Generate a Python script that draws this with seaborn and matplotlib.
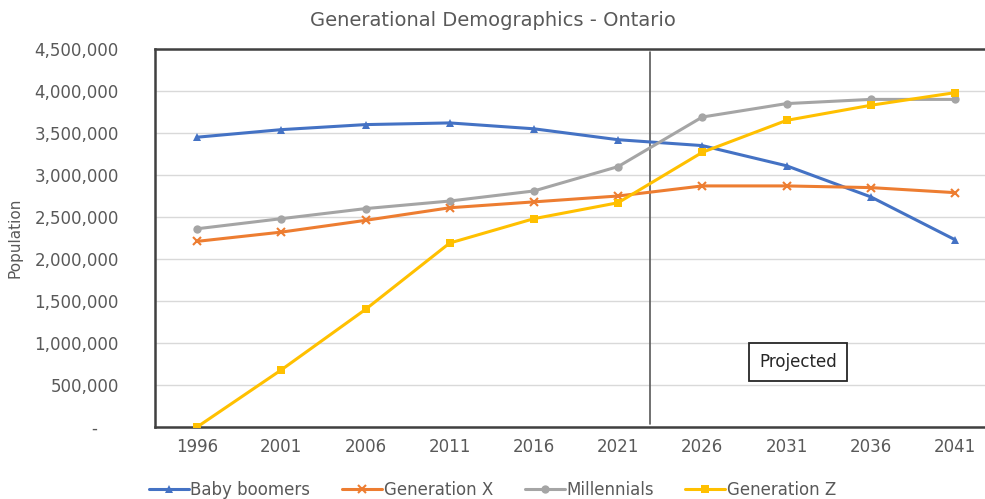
import matplotlib
matplotlib.use("Agg")
import matplotlib.pyplot as plt
import seaborn as sns
import pandas as pd
from matplotlib.ticker import FuncFormatter, MultipleLocator

years = ["1996", "2001", "2006", "2011", "2016", "2021", "2026", "2031", "2036", "2041"]
baby_boomers = [3450000, 3540000, 3600000, 3620000, 3550000, 3420000, 3350000, 3110000, 2740000, 2230000]
generation_x = [2210000, 2320000, 2460000, 2610000, 2680000, 2750000, 2870000, 2870000, 2850000, 2790000]
millennials = [2360000, 2480000, 2600000, 2690000, 2810000, 3100000, 3690000, 3850000, 3900000, 3900000]
generation_z = [0, 680000, 1400000, 2190000, 2480000, 2670000, 3270000, 3650000, 3830000, 3980000]
series_names = ["Baby boomers", "Generation X", "Millennials", "Generation Z"]
series_values = [baby_boomers, generation_x, millennials, generation_z]
colors = ["#4472C4", "#ED7D31", "#A5A5A5", "#FFC000"]
markers = ["^", "x", "o", "s"]

rows = []
for name, vals in zip(series_names, series_values):
    for i, (y, v) in enumerate(zip(years, vals)):
        rows.append({"idx": i, "year": y, "Population": v, "series": name})
df = pd.DataFrame(rows)

sns.set_theme(style="white")
plt.rcParams['font.family'] = ['DejaVu Sans']

fig = plt.figure(figsize=(9.85, 4.99), dpi=100)
ax = fig.add_axes([155/985, 72/499, 842/985, 378/499])

for name, col, mk in zip(series_names, colors, markers):
    sub = df[df["series"] == name]
    sns.lineplot(data=sub, x="idx", y="Population", ax=ax, color=col, marker=mk,
                 markersize=6, markeredgewidth=1.5 if mk == "x" else 0,
                 markeredgecolor=col, linewidth=2.2, label=name, legend=False, zorder=3)

ax.set_xlim(-0.5, 9.5)
ax.set_ylim(0, 4500000)
ax.set_xticks(range(len(years)))
ax.set_xticklabels(years)
ax.yaxis.set_major_locator(MultipleLocator(500000))
ax.yaxis.set_major_formatter(FuncFormatter(lambda v, p: "-    " if v == 0 else f"{int(v):,}"))
ax.grid(axis="y", color="#D9D9D9", linewidth=1)
ax.set_axisbelow(True)
ax.tick_params(axis="both", length=0, labelsize=12, colors="#595959")
ax.tick_params(axis="y", pad=26)
ax.tick_params(axis="x", pad=8)
ax.set_xlabel("")
ax.set_ylabel("Population", fontsize=11, color="#595959", labelpad=9)

for s in ["left", "top", "bottom"]:
    ax.spines[s].set_color("#404040")
    ax.spines[s].set_linewidth(1.8)
ax.spines["right"].set_visible(False)

ax.axvline(5.38, ymin=0.008, ymax=0.992, color="#595959", linewidth=1.2, zorder=2)
ax.text(7.14, 774000, "Projected", ha="center", va="center", fontsize=12, color="#262626",
        bbox=dict(boxstyle="square,pad=0.6", facecolor="white", edgecolor="#262626", linewidth=1.3),
        zorder=5)

fig.text(0.5, 1 - 21/499, "Generational Demographics - Ontario", ha="center", va="center",
         fontsize=14, color="#595959")

handles, labels = ax.get_legend_handles_labels()
fig.legend(handles, labels, loc="center", bbox_to_anchor=(0.5, 9/499), ncol=4, frameon=False,
           fontsize=12, handlelength=2.4, handletextpad=0.1, columnspacing=1.9,
           labelcolor="#595959")

fig.savefig("out.png", dpi=100)
